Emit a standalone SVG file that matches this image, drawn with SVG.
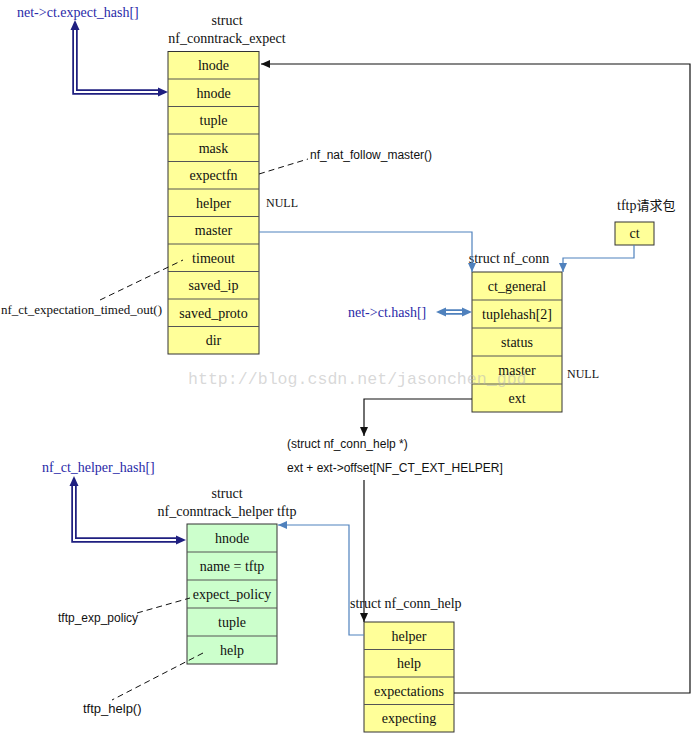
<svg xmlns="http://www.w3.org/2000/svg" width="692" height="733" viewBox="0 0 692 733">
<defs>
<style>
.box{fill:#ffff99;stroke:#333;stroke-width:1}
.gbox{fill:#ccffcc;stroke:#333;stroke-width:1}
.sep{stroke:#555;stroke-width:1}
.t{font-family:"Liberation Serif","Times New Roman",serif;font-size:14px;fill:#111;text-anchor:middle}
.ts{font-family:"Liberation Serif","Times New Roman",serif;font-size:14px;fill:#111}
.a{font-family:"Liberation Sans",Arial,sans-serif;font-size:12px;fill:#111}
.blue{font-family:"Liberation Serif","Times New Roman",serif;font-size:14px;fill:#2a2aa8}
.k{fill:none;stroke:#111;stroke-width:1.2}
.b{fill:none;stroke:#4f81bd;stroke-width:1.2}
.d{fill:none;stroke:#111;stroke-width:1;stroke-dasharray:6,4}
.dbl{fill:none;stroke:#1f1f80;stroke-width:5.5}
.dblw{fill:none;stroke:#fff;stroke-width:2}
.dblb{fill:none;stroke:#4f81bd;stroke-width:5.5}
</style>
<marker id="mk" markerUnits="userSpaceOnUse" markerWidth="9" markerHeight="8" refX="9" refY="4" orient="auto"><path d="M0,0 L9,4 L0,8 z" fill="#111"/></marker>
<marker id="mb" markerUnits="userSpaceOnUse" markerWidth="9" markerHeight="8" refX="9" refY="4" orient="auto"><path d="M0,0 L9,4 L0,8 z" fill="#4f81bd"/></marker>
</defs>
<rect width="692" height="733" fill="#fff"/>

<g id="expect_hash">
<text class="blue" x="17" y="17">net-&gt;ct.expect_hash[]</text>
</g>
<g id="nf_conntrack_expect">
<text class="t" x="227" y="25">struct</text>
<text class="t" x="227" y="43">nf_conntrack_expect</text>
<rect class="box" x="168" y="51.5" width="91" height="302.5"/>
<line class="sep" x1="168" x2="259" y1="79" y2="79"/>
<line class="sep" x1="168" x2="259" y1="106.5" y2="106.5"/>
<line class="sep" x1="168" x2="259" y1="134" y2="134"/>
<line class="sep" x1="168" x2="259" y1="161.5" y2="161.5"/>
<line class="sep" x1="168" x2="259" y1="189" y2="189"/>
<line class="sep" x1="168" x2="259" y1="216.5" y2="216.5"/>
<line class="sep" x1="168" x2="259" y1="244" y2="244"/>
<line class="sep" x1="168" x2="259" y1="271.5" y2="271.5"/>
<line class="sep" x1="168" x2="259" y1="299" y2="299"/>
<line class="sep" x1="168" x2="259" y1="326.5" y2="326.5"/>
<text class="t" x="213.5" y="70">lnode</text>
<text class="t" x="213.5" y="97.5">hnode</text>
<text class="t" x="213.5" y="125">tuple</text>
<text class="t" x="213.5" y="152.5">mask</text>
<text class="t" x="213.5" y="180">expectfn</text>
<text class="t" x="213.5" y="207.5">helper</text>
<text class="t" x="213.5" y="235">master</text>
<text class="t" x="213.5" y="262.5">timeout</text>
<text class="t" x="213.5" y="290">saved_ip</text>
<text class="t" x="213.5" y="317.5">saved_proto</text>
<text class="t" x="213.5" y="345">dir</text>
</g>

<g id="labels">
<text class="a" x="310" y="159">nf_nat_follow_master()</text>
<text class="ts" x="266" y="207" style="font-size:12px">NULL</text>
<text class="ts" x="1" y="314" style="font-size:13px">nf_ct_expectation_timed_out()</text>
<text class="ts" x="567" y="378" style="font-size:12px">NULL</text>
<text class="a" x="287" y="448">(struct nf_conn_help *)</text>
<text class="a" x="287" y="472">ext + ext-&gt;offset[NF_CT_EXT_HELPER]</text>
<text class="a" x="58" y="622">tftp_exp_policy</text>
<text class="a" x="83" y="713" style="font-size:13px">tftp_help()</text>
</g>

<g id="tftp_ct">
<text class="ts" x="617" y="210">tftp<tspan style="font-family:'Noto Sans CJK SC',sans-serif;font-size:13px">请求包</tspan></text>
<rect class="box" x="615" y="222" width="39" height="23"/>
<text class="t" x="634.5" y="238">ct</text>
</g>

<g id="ct_hash">
<text class="blue" x="348" y="317">net-&gt;ct.hash[]</text>
</g>

<g id="nf_conn">
<text class="t" x="509" y="263">struct nf_conn</text>
<rect class="box" x="472" y="272" width="90" height="140"/>
<line class="sep" x1="472" x2="562" y1="300" y2="300"/>
<line class="sep" x1="472" x2="562" y1="328" y2="328"/>
<line class="sep" x1="472" x2="562" y1="356" y2="356"/>
<line class="sep" x1="472" x2="562" y1="384" y2="384"/>
<text class="t" x="517" y="291">ct_general</text>
<text class="t" x="517" y="319">tuplehash[2]</text>
<text class="t" x="517" y="347">status</text>
<text class="t" x="517" y="375">master</text>
<text class="t" x="517" y="403">ext</text>
</g>

<g id="helper_hash">
<text class="blue" x="42" y="472">nf_ct_helper_hash[]</text>
</g>

<g id="nf_conntrack_helper">
<text class="t" x="227" y="498">struct</text>
<text class="t" x="227" y="516">nf_conntrack_helper tftp</text>
<rect class="gbox" x="187" y="524" width="90" height="140"/>
<line class="sep" x1="187" x2="277" y1="552" y2="552"/>
<line class="sep" x1="187" x2="277" y1="580" y2="580"/>
<line class="sep" x1="187" x2="277" y1="608" y2="608"/>
<line class="sep" x1="187" x2="277" y1="636" y2="636"/>
<text class="t" x="232" y="543">hnode</text>
<text class="t" x="232" y="571">name = tftp</text>
<text class="t" x="232" y="599">expect_policy</text>
<text class="t" x="232" y="627">tuple</text>
<text class="t" x="232" y="655">help</text>
</g>

<g id="nf_conn_help">
<text class="ts" x="350" y="608">struct nf_conn_help</text>
<rect class="box" x="364" y="622" width="90" height="110"/>
<line class="sep" x1="364" x2="454" y1="649.5" y2="649.5"/>
<line class="sep" x1="364" x2="454" y1="677" y2="677"/>
<line class="sep" x1="364" x2="454" y1="704.5" y2="704.5"/>
<text class="t" x="409" y="640.5">helper</text>
<text class="t" x="409" y="668">help</text>
<text class="t" x="409" y="695.5">expectations</text>
<text class="t" x="409" y="723">expecting</text>
</g>

<g id="connectors">
<path class="dbl" d="M75,27 V92 H160"/>
<path class="dblw" d="M75,27 V92 H160"/>
<polygon points="75,20 70.5,30 79.5,30" fill="#1f1f80"/>
<polygon points="168,92 158,87.5 158,96.5" fill="#1f1f80"/>

<path class="dbl" d="M74,483 V540 H178"/>
<path class="dblw" d="M74,483 V540 H178"/>
<polygon points="74,476 69.5,486 78.5,486" fill="#1f1f80"/>
<polygon points="186,540 176,535.5 176,544.5" fill="#1f1f80"/>

<path class="dblb" d="M443,312 H465"/>
<path class="dblw" d="M443,312 H465"/>
<polygon points="436,312 446,307.5 446,316.5" fill="#4f81bd"/>
<polygon points="472,312 462,307.5 462,316.5" fill="#4f81bd"/>

<path class="d" d="M259,174 L308,159"/>
<path class="d" d="M100,300 L183,260"/>
<path class="d" d="M137,613 L190,598"/>
<path class="d" d="M203,653 L112,700"/>

<path class="b" d="M259,232 H472 V272" marker-end="url(#mb)"/>
<path class="b" d="M634,245 V258 H563 V272" marker-end="url(#mb)"/>
<path class="b" d="M364,635 H349 V525 H278" marker-end="url(#mb)"/>
<path class="k" d="M472,399 H364 V436" marker-end="url(#mk)"/>
<path class="k" d="M364,480 V622" marker-end="url(#mk)"/>
<path class="k" d="M454,693 H690 V64 H261" marker-end="url(#mk)"/>
</g>

<text x="188" y="384" style="font-family:'Liberation Mono','Courier New',monospace;font-size:16.6px;fill:#b8b8b8;fill-opacity:0.55">http://blog.csdn.net/jasonchen_gbd</text>
</svg>
